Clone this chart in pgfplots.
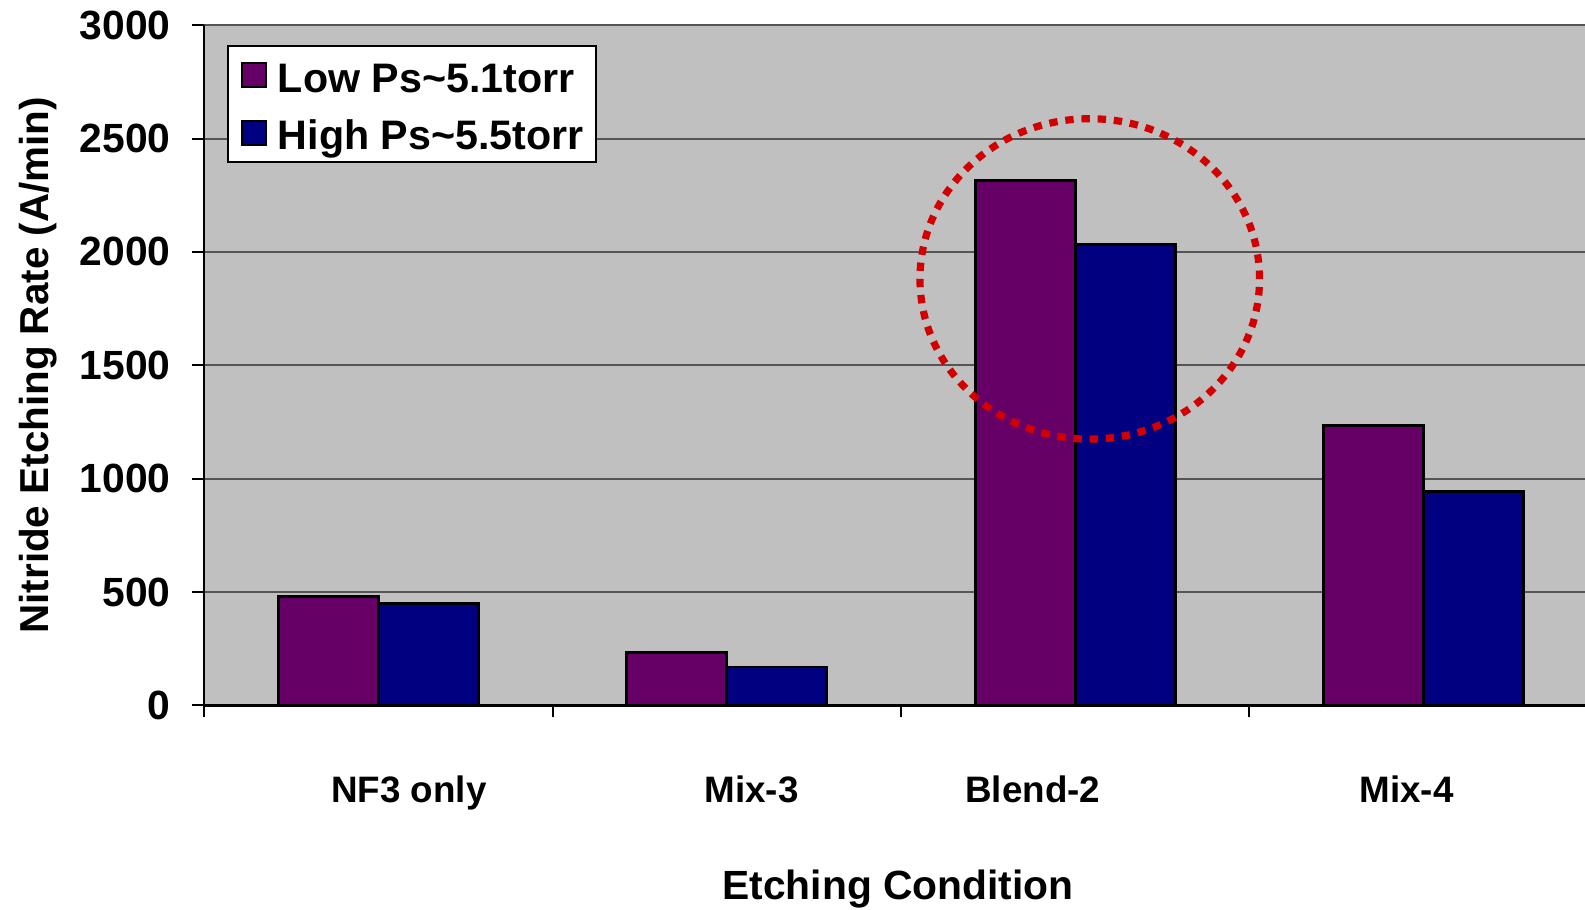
\documentclass[border=0pt]{standalone}
\usepackage{fontspec}
\setmainfont{Liberation Sans}
\usepackage{pgfplots}
\usepackage{pgfplotstable}
\pgfplotsset{compat=1.18}
\definecolor{bgc}{RGB}{192,192,192}
\definecolor{lowc}{RGB}{102,0,102}
\definecolor{highc}{RGB}{0,0,128}
\definecolor{gridc}{RGB}{85,85,85}
\definecolor{circc}{RGB}{210,0,0}

\pgfplotstableread{
x low high
0.5 481 450
1.5 232 169
2.5 2314 2033
3.5 1235 945
}\datatable

\begin{document}
\begin{tikzpicture}
\useasboundingbox (-51.05pt,-51.1pt) rectangle (345.2pt,176.35pt);
\begin{axis}[
  at={(0,0)}, anchor=south west,
  scale only axis, width=345.2pt, height=170.05pt,
  xmin=0, xmax=3.963, ymin=0, ymax=3000,
  axis lines*=left,
  axis line style={black, line width=0.6pt},
  axis background/.style={fill=bgc},
  ybar=0pt, bar width=25pt,
  ytick={0,500,...,3000},
  ymajorgrids, major grid style={gridc, line width=0.5pt},
  xtick={0,1,2,3}, xticklabels={},
  extra x ticks={0.5875,1.571,2.378,3.451},
  extra x tick labels={NF3 only, Mix-3, Blend-2, Mix-4},
  extra x tick style={major tick length=0pt, grid=none,
     xticklabel style={anchor=base, yshift=-24.2pt, font=\fontsize{9.2}{11}\selectfont\bfseries}},
  tick align=outside, major tick length=3pt,
  tick style={black, line width=0.5pt},
  yticklabel style={font=\fontsize{10.2}{12}\selectfont\bfseries, anchor=east, inner sep=0pt, xshift=-5.2pt},
  /pgf/number format/assume math mode=true,
  /pgf/number format/set thousands separator={},
  xlabel={Etching Condition},
  xlabel style={at={(axis description cs:0.5025,-0.2858)}, anchor=base, font=\fontsize{10.2}{12}\selectfont\bfseries},
  ylabel={Nitride Etching Rate (A/min)},
  ylabel style={at={(axis description cs:-0.1202,0.5)}, anchor=center, font=\fontsize{10.1}{12}\selectfont\bfseries},
  legend style={at={(axis description cs:0,1)}, anchor=north west, xshift=5.8pt, yshift=-5.05pt,
     draw=black, line width=0.5pt, fill=white, inner xsep=1.5pt, inner ysep=0pt,
     font=\fontsize{10.3}{12}\selectfont\bfseries,
     nodes={inner sep=1.5pt, text height=9.95pt, text depth=1.45pt}, row sep=0pt, column sep=1.25pt},
  legend cell align=left,
]
\addplot[fill=lowc, draw=black, line width=0.7pt,
  legend image code/.code={\path (0pt,0pt); \draw[fill=lowc, draw=black, line width=0.6pt] (1.5pt,-3pt) rectangle (7.5pt,3pt);}]
  table[x=x, y=low] {\datatable};
\addlegendentry{Low Ps\textasciitilde 5.1torr}
\addplot[fill=highc, draw=black, line width=0.7pt,
  legend image code/.code={\path (0pt,0pt); \draw[fill=highc, draw=black, line width=0.6pt] (1.5pt,-3pt) rectangle (7.5pt,3pt);}]
  table[x=x, y=high] {\datatable};
\addlegendentry{High Ps\textasciitilde 5.5torr}
\draw[circc, line width=1.8pt, dash pattern=on 2.1pt off 1.95pt] (axis cs:2.5416,1881) ellipse [x radius=42.45pt, y radius=40.05pt];
\end{axis}
\end{tikzpicture}
\end{document}
